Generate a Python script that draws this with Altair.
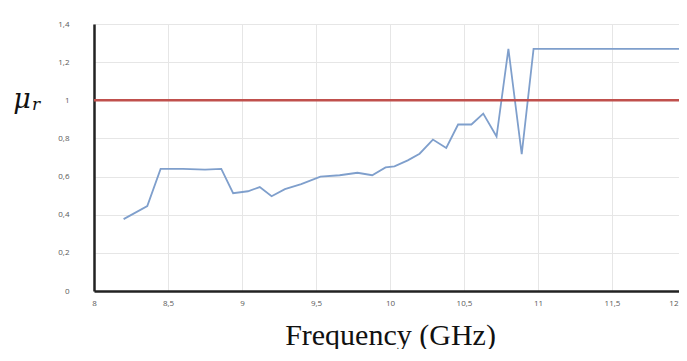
import altair as alt
import pandas as pd

freq = [8.2, 8.36, 8.45, 8.6, 8.75, 8.86, 8.94, 9.04, 9.12, 9.2, 9.29, 9.4, 9.53,
        9.66, 9.78, 9.88, 9.97, 10.03, 10.12, 10.2, 10.29, 10.38, 10.46, 10.55,
        10.63, 10.72, 10.8, 10.89, 10.97, 11.5, 12.0]
mu = [0.377, 0.445, 0.64, 0.64, 0.636, 0.64, 0.513, 0.523, 0.545, 0.497, 0.534, 0.56, 0.60,
      0.607, 0.62, 0.607, 0.648, 0.654, 0.685, 0.72, 0.794, 0.75, 0.873, 0.873,
      0.93, 0.81, 1.27, 0.717, 1.27, 1.27, 1.27]
ref_x = [8.0, 12.0]
ref_y = [1.0, 1.0]
x_ticks = [8, 8.5, 9, 9.5, 10, 10.5, 11, 11.5, 12]
y_ticks = [0, 0.2, 0.4, 0.6, 0.8, 1, 1.2, 1.4]

df = pd.DataFrame({"f": freq, "mu": mu})
ref = pd.DataFrame({"f": ref_x, "mu": ref_y})

# the plot area runs slightly past the right edge of the picture, as in the reference
xscale = alt.Scale(domain=[8, 12], nice=False, zero=False, range=[0, 592])
yscale = alt.Scale(domain=[0, 1.4], nice=False)

xaxis = alt.Axis(
    values=x_ticks, format="~g",
    labelExpr="replace(datum.label, '.', ',')",
    labelFont="Open Sans", labelFontSize=8, labelColor="#595959",
    labelPadding=8, ticks=False, domainColor="#222222", domainWidth=2.5,
    gridColor="#e6e6e6", gridWidth=1,
    labelAlign=alt.ExprRef(expr="datum.value == 12 ? 'right' : 'center'"),
    labelOffset=alt.ExprRef(expr="datum.value == 12 ? -8 : 0"),
    title="Frequency (GHz)", titleFont="Liberation Serif", titleFontSize=30,
    titleFontWeight="normal", titleColor="#111111",
    titleX=296, titleY=53, titleBaseline="alphabetic", titleAnchor="middle",
)
yaxis = alt.Axis(
    values=y_ticks, format="~g",
    labelExpr="replace(datum.label, '.', ',')",
    labelFont="Open Sans", labelFontSize=8, labelColor="#595959",
    labelPadding=25, ticks=False, domainColor="#222222", domainWidth=2.5,
    gridColor="#e6e6e6", gridWidth=1, title=None,
)

line = alt.Chart(df).mark_line(color="#7f9fcc", strokeWidth=1.8).encode(
    x=alt.X("f:Q", scale=xscale, axis=xaxis),
    y=alt.Y("mu:Q", scale=yscale, axis=yaxis),
)
refline = alt.Chart(ref).mark_line(color="#c0504d", strokeWidth=2.5).encode(
    x=alt.X("f:Q", scale=xscale, axis=xaxis),
    y=alt.Y("mu:Q", scale=yscale, axis=yaxis),
)

mu_lbl = alt.Chart(pd.DataFrame({"t": ["μ"]})).mark_text(
    font="DejaVu Serif", fontSize=27, fontStyle="italic",
    align="center", baseline="alphabetic", color="#111111"
).encode(x=alt.value(-72), y=alt.value(84), text="t:N")
r_lbl = alt.Chart(pd.DataFrame({"t": ["r"]})).mark_text(
    font="DejaVu Serif", fontSize=17, fontStyle="italic",
    align="center", baseline="alphabetic", color="#111111"
).encode(x=alt.value(-58), y=alt.value(86), text="t:N")

chart = alt.layer(line, refline, mu_lbl, r_lbl).properties(
    width=585, height=267,
    autosize=alt.AutoSizeParams(type="none"),
    padding={"left": 86, "top": 16, "right": 0, "bottom": 58},
).configure_view(stroke=None).configure(background="white").configure_axis(
    labelOverlap=False, labelBound=False
)

chart.save("out.html", embed_options={"renderer": "svg", "actions": False})
